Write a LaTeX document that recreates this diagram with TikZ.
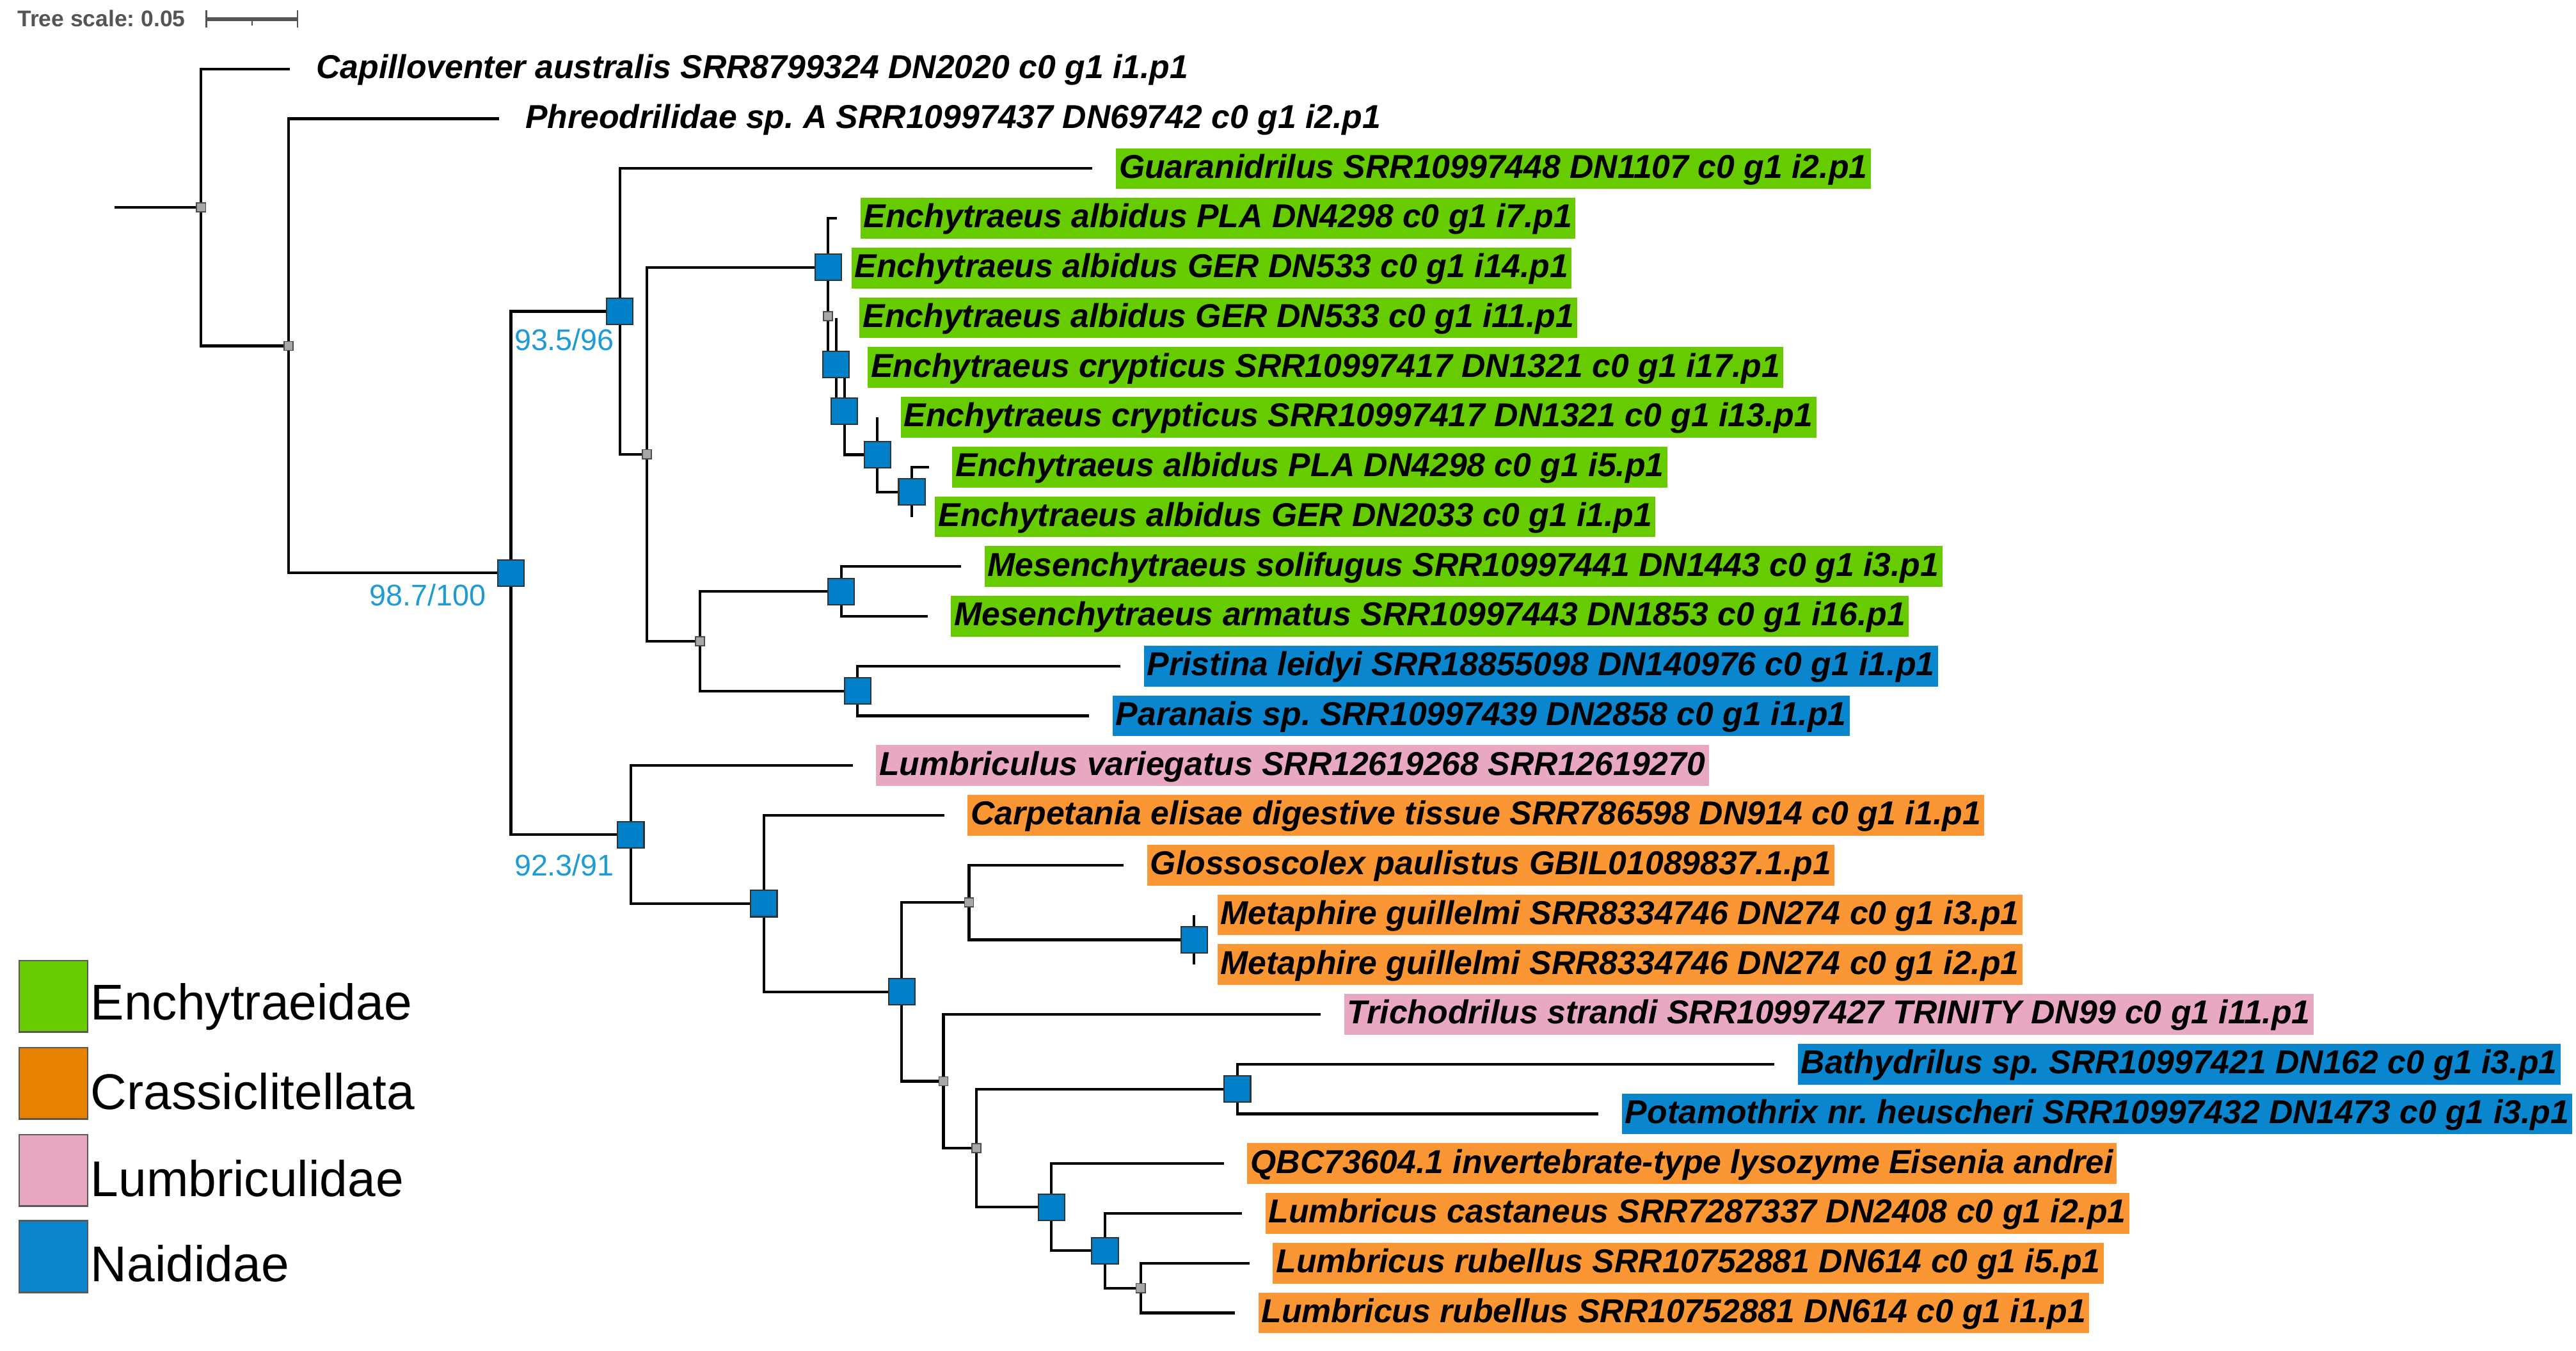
\documentclass[tikz,border=0pt]{standalone}
\usepackage{fontspec}
\setmainfont{Liberation Sans}
\usetikzlibrary{positioning}
\frenchspacing

\definecolor{enchy}{HTML}{66CC00}
\definecolor{crassi}{HTML}{E68200}
\definecolor{crassilab}{HTML}{FA9633}
\definecolor{lumbri}{HTML}{E8A8C2}
\definecolor{naid}{HTML}{0A86CF}
\definecolor{nodeblue}{HTML}{0080C8}
\definecolor{bootblue}{HTML}{1E9BD7}

\begin{document}
\begin{tikzpicture}[x=1pt,y=-1pt]
        \tikzstyle{branch}=[line width=1.65pt, black]
        \tikzstyle{bluesq}=[draw=black!80, fill=nodeblue, line width=0.8pt, minimum size=16pt, inner sep=0pt]
        \tikzstyle{greysq}=[draw=black!70, fill=black!35, line width=0.6pt, minimum size=5.5pt, inner sep=0pt]
        \tikzstyle{leaf}=[inner xsep=2pt, inner ysep=0pt, text height=18.2pt, text depth=6.6pt, font=\fontsize{20.15}{21}\selectfont\bfseries\itshape]
        \tikzstyle{boot}=[text=bootblue, inner sep=0pt, anchor=base, font=\fontsize{18.2}{19}\selectfont]
        \tikzstyle{legendsq}=[draw=black!65, line width=1pt, minimum width=41.7pt, minimum height=43.5pt, inner sep=0pt, anchor=north west]
        \tikzstyle{legendtxt}=[anchor=base west, inner sep=0pt, font=\fontsize{30.6}{32}\selectfont]
        \useasboundingbox (0,0) rectangle (1568,822);

        % tree scale
        \node[anchor=base west, inner sep=0pt, text=black!67, font=\fontsize{13.8}{14}\selectfont\bfseries] (scale) at (10.5,16.2) {Tree scale: 0.05};
        \coordinate (sb1) at (125.7,11.7);
        \coordinate (sb2) at (181.1,11.7);
        \coordinate (sbm) at (153.4,11.7);
        \draw[line width=2.6pt, black!67] (sb1) -- (sb2);
        \draw[line width=1pt, black!67] ([yshift=5.4pt]sb1) -- ([yshift=-5.2pt]sb1);
        \draw[line width=1pt, black!67] ([yshift=5.4pt]sb2) -- ([yshift=-5.2pt]sb2);
        \draw[line width=1pt, black!67] (sbm) -- ([yshift=-3.9pt]sbm);

        \begin{scope}[yshift=-11.72pt, y=-30.28pt]
            % internal nodes, x in px, y in rows
            \coordinate (root) at (69.6,3.7822);
            \coordinate (n1) at (122.4,3.7822);
            \coordinate (n2) at (175.6,6.5645);
            \coordinate (n3) at (311,11.1289);
            \coordinate (n4) at (377.3,5.8711);
            \coordinate (n5) at (393.7,8.7422);
            \coordinate (n6) at (504,4.9844);
            \coordinate (n7) at (504,5.9688);
            \coordinate (n8) at (509,6.9375);
            \coordinate (n9) at (514,7.875);
            \coordinate (n10) at (534,8.75);
            \coordinate (n11) at (555,9.5);
            \coordinate (n12) at (426,12.5);
            \coordinate (n13) at (512,11.5);
            \coordinate (n14) at (522,13.5);
            \coordinate (n15) at (384,16.3867);
            \coordinate (n16) at (465,17.7734);
            \coordinate (n17) at (548.9,19.5469);
            \coordinate (n18) at (589.8,17.75);
            \coordinate (n19) at (726.8,18.5);
            \coordinate (n20) at (574.3,21.3438);
            \coordinate (n21) at (594.4,22.6875);
            \coordinate (n22) at (753.2,21.5);
            \coordinate (n23) at (640,23.875);
            \coordinate (n24) at (672.6,24.75);
            \coordinate (n25) at (694.3,25.5);

            % leaves
            \foreach \r/\tx/\col/\txt in {
                1/176.3/none/Capilloventer australis SRR8799324 DN2020 c0 g1 i1.p1,
                2/303.6/none/Phreodrilidae sp. A SRR10997437 DN69742 c0 g1 i2.p1,
                3/665/enchy/Guaranidrilus SRR10997448 DN1107 c0 g1 i2.p1,
                4/509.5/enchy/Enchytraeus albidus PLA DN4298 c0 g1 i7.p1,
                5/504/enchy/Enchytraeus albidus GER DN533 c0 g1 i14.p1,
                6/509/enchy/Enchytraeus albidus GER DN533 c0 g1 i11.p1,
                7/514/enchy/Enchytraeus crypticus SRR10997417 DN1321 c0 g1 i17.p1,
                8/534/enchy/Enchytraeus crypticus SRR10997417 DN1321 c0 g1 i13.p1,
                9/565.5/enchy/Enchytraeus albidus PLA DN4298 c0 g1 i5.p1,
                10/555/enchy/Enchytraeus albidus GER DN2033 c0 g1 i1.p1,
                11/585/enchy/Mesenchytraeus solifugus SRR10997441 DN1443 c0 g1 i3.p1,
                12/564.6/enchy/Mesenchytraeus armatus SRR10997443 DN1853 c0 g1 i16.p1,
                13/682/naid/Pristina leidyi SRR18855098 DN140976 c0 g1 i1.p1,
                14/663/naid/Paranais sp. SRR10997439 DN2858 c0 g1 i1.p1,
                15/519/lumbri/Lumbriculus variegatus SRR12619268 SRR12619270,
                16/574.7/crassilab/Carpetania elisae digestive tissue SRR786598 DN914 c0 g1 i1.p1,
                17/684/crassilab/Glossoscolex paulistus GBIL01089837.1.p1,
                18/726.8/crassilab/Metaphire guillelmi SRR8334746 DN274 c0 g1 i3.p1,
                19/726.8/crassilab/Metaphire guillelmi SRR8334746 DN274 c0 g1 i2.p1,
                20/804/lumbri/Trichodrilus strandi SRR10997427 TRINITY DN99 c0 g1 i11.p1,
                21/1080/naid/Bathydrilus sp. SRR10997421 DN162 c0 g1 i3.p1,
                22/973/naid/Potamothrix nr. heuscheri SRR10997432 DN1473 c0 g1 i3.p1,
                23/745/crassilab/QBC73604.1 invertebrate-type lysozyme Eisenia andrei,
                24/756/crassilab/Lumbricus castaneus SRR7287337 DN2408 c0 g1 i2.p1,
                25/760.6/crassilab/Lumbricus rubellus SRR10752881 DN614 c0 g1 i5.p1,
                26/751.7/crassilab/Lumbricus rubellus SRR10752881 DN614 c0 g1 i1.p1}
            {
                \coordinate (t\r) at (\tx,\r);
                \node[leaf, fill=\col, right=14pt of t\r] (l\r) {\txt};
            }

            % branches
            \draw[branch] (root) -- (n1);
            \foreach \p/\c in {n1/t1,n1/n2,n2/t2,n2/n3,n3/n4,n3/n15,n4/t3,n4/n5,n5/n6,n5/n12,
                n6/t4,n6/n7,n7/t5,n7/n8,n8/t6,n8/n9,n9/t7,n9/n10,n10/t8,n10/n11,n11/t9,n11/t10,
                n12/n13,n12/n14,n13/t11,n13/t12,n14/t13,n14/t14,n15/t15,n15/n16,n16/t16,n16/n17,
                n17/n18,n17/n20,n18/t17,n18/n19,n19/t18,n19/t19,n20/t20,n20/n21,n21/n22,n21/n23,
                n22/t21,n22/t22,n23/t23,n23/n24,n24/t24,n24/n25,n25/t25,n25/t26}
                \draw[branch] (\p) |- (\c);

            % support markers
            \foreach \n in {n3,n4,n6,n8,n9,n10,n11,n13,n14,n15,n16,n17,n19,n22,n23,n24}
                \node[bluesq] (m\n) at (\n) {};
            \foreach \n in {n1,n2,n5,n7,n12,n18,n20,n21,n25}
                \node[greysq] (m\n) at (\n) {};
        \end{scope}

        % support values
        \node[boot] (s3) at (260.5,368.8) {98.7/100};
        \node[boot] (s4) at (343.5,213.4) {93.5/96};
        \node[boot] (s15) at (343.5,532.8) {92.3/91};

        % legend
        \foreach \i/\col/\txt/\top/\base in {1/enchy/Enchytraeidae/584/620.8,
            2/crassi/Crassiclitellata/637/675.2,
            3/lumbri/Lumbriculidae/690/728,
            4/naid/Naididae/742.5/780}
        {
            \node[legendsq, fill=\col] (key\i) at (11.2,\top) {};
            \node[legendtxt] (name\i) at (55,\base) {\txt};
        }
\end{tikzpicture}
\end{document}
